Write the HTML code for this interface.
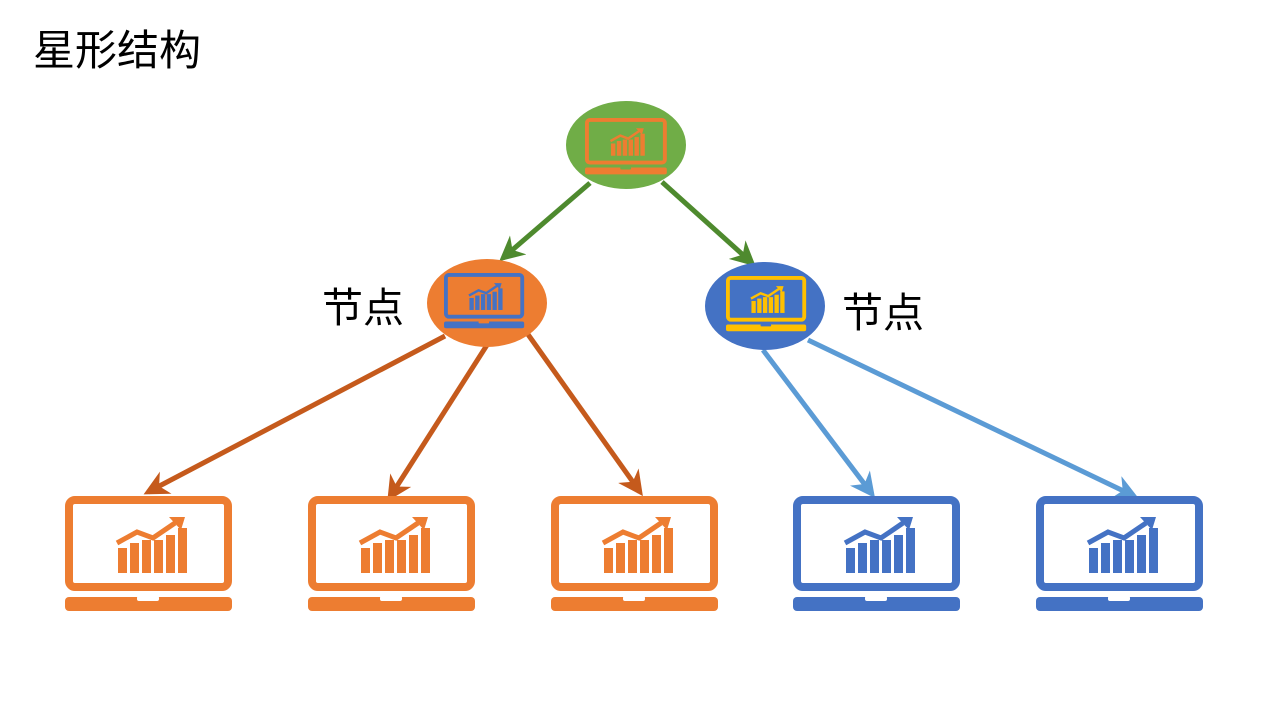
<!DOCTYPE html>
<html><head><meta charset="utf-8"><style>
html,body{margin:0;padding:0;background:#fff;}
svg text{font-family:"Liberation Sans","Noto Sans CJK SC",sans-serif;}
</style></head><body>
<svg width="1280" height="720" viewBox="0 0 1280 720" xmlns="http://www.w3.org/2000/svg">
<defs>
<g id="lap">
  <rect x="4" y="4" width="159" height="87" rx="6" fill="none" stroke="currentColor" stroke-width="8"/>
  <rect x="0" y="101" width="167" height="14" rx="4" fill="currentColor"/>
  <rect x="72" y="100" width="22" height="5" rx="2" fill="var(--bg,#fff)"/>
  <g fill="currentColor">
    <rect x="53" y="52" width="9" height="25"/>
    <rect x="65" y="47" width="9" height="30"/>
    <rect x="77" y="44" width="9" height="33"/>
    <rect x="89" y="44" width="9" height="33"/>
    <rect x="101" y="39" width="9" height="38"/>
    <rect x="113" y="32" width="9" height="45"/>
  </g>
  <polyline points="52,47 72,36 88,42 110,27" fill="none" stroke="currentColor" stroke-width="5"/>
  <polygon points="104,21 120,21 116,34" fill="currentColor"/>
</g>
<marker id="mg" viewBox="0 0 10 10" refX="8" refY="5" markerWidth="5" markerHeight="5" orient="auto"><path d="M0,0 L10,5 L0,10 L3,5Z" fill="#4e8a2e"/></marker>
<marker id="mo" viewBox="0 0 10 10" refX="8" refY="5" markerWidth="5" markerHeight="5" orient="auto"><path d="M0,0 L10,5 L0,10 L3,5Z" fill="#c55a1c"/></marker>
<marker id="mb" viewBox="0 0 10 10" refX="8" refY="5" markerWidth="5" markerHeight="5" orient="auto"><path d="M0,0 L10,5 L0,10 L3,5Z" fill="#5b9bd5"/></marker>
</defs>
<text x="33" y="65" font-size="42">星形结构</text>
<text x="322" y="322" font-size="41">节点</text>
<text x="842" y="327" font-size="41">节点</text>

<g stroke-width="5">
<line x1="590" y1="183" x2="503" y2="258" stroke="#4e8a2e" marker-end="url(#mg)"/>
<line x1="662" y1="182" x2="752" y2="263" stroke="#4e8a2e" marker-end="url(#mg)"/>
<line x1="445" y1="336" x2="148" y2="492" stroke="#c55a1c" marker-end="url(#mo)"/>
<line x1="487" y1="345" x2="390" y2="497" stroke="#c55a1c" marker-end="url(#mo)"/>
<line x1="527" y1="333" x2="640" y2="492" stroke="#c55a1c" marker-end="url(#mo)"/>
<line x1="763" y1="350" x2="872" y2="494" stroke="#5b9bd5" marker-end="url(#mb)"/>
<line x1="808" y1="340" x2="1134" y2="496" stroke="#5b9bd5" marker-end="url(#mb)"/>
</g>

<ellipse cx="626" cy="145" rx="60" ry="44" fill="#70ad47"/>
<g transform="translate(585,118) scale(0.49)" style="color:#ed7d31;--bg:#70ad47"><use href="#lap"/></g>
<ellipse cx="487" cy="303" rx="60" ry="44" fill="#ed7d31"/>
<g transform="translate(444,273) scale(0.48)" style="color:#4472c4;--bg:#ed7d31"><use href="#lap"/></g>
<ellipse cx="765" cy="306" rx="60" ry="44" fill="#4472c4"/>
<g transform="translate(726,276) scale(0.48)" style="color:#ffc000;--bg:#4472c4"><use href="#lap"/></g>

<g transform="translate(65,496)" style="color:#ed7d31"><use href="#lap"/></g>
<g transform="translate(308,496)" style="color:#ed7d31"><use href="#lap"/></g>
<g transform="translate(551,496)" style="color:#ed7d31"><use href="#lap"/></g>
<g transform="translate(793,496)" style="color:#4472c4"><use href="#lap"/></g>
<g transform="translate(1036,496)" style="color:#4472c4"><use href="#lap"/></g>
</svg>
</body></html>
